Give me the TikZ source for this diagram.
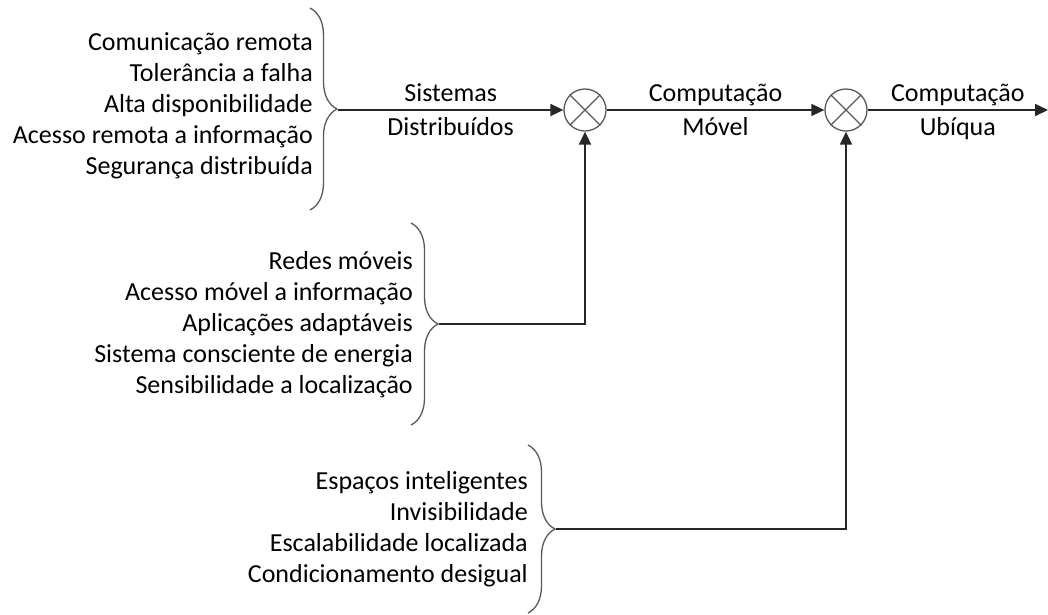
\documentclass[tikz,border=0pt]{standalone}
\usepackage{fontspec}
\setmainfont{Carlito}
\usetikzlibrary{arrows.meta,decorations.pathreplacing,positioning}
\tikzset{
  lista/.style={align=right,font=\fontsize{26}{31}\selectfont,inner sep=0pt},
  rotulo/.style={font=\fontsize{26}{31}\selectfont,inner sep=0pt,text height=17pt,text depth=8pt},
  chave/.style={draw=black!65,line width=1.3pt,decorate,decoration={brace,amplitude=27pt}},
  soma/.style={circle,draw=black!65,line width=1.3pt,minimum size=42pt,inner sep=0pt},
  fluxo/.style={draw=black!85,line width=1.7pt,-{Triangle[length=13pt,width=12pt]}},
}
\begin{document}
\begin{tikzpicture}[x=1pt,y=-1pt]
\useasboundingbox (0,0) rectangle (1048,614);
% somadores
\node[soma] (somaA) at (585,110) {};
\node[soma] (somaB) at (846,110) {};
\draw[black!65,line width=1.1pt] (somaA.north west) -- (somaA.south east) (somaA.north east) -- (somaA.south west);
\draw[black!65,line width=1.1pt] (somaB.north west) -- (somaB.south east) (somaB.north east) -- (somaB.south west);
% listas de requisitos
\node[lista,anchor=east] (distrib) at (313,106) {Comunicação remota\\Tolerância a falha\\Alta disponibilidade\\Acesso remota a informação\\Segurança distribuída};
\node[lista,anchor=east] (movel) at (413,325) {Redes móveis\\Acesso móvel a informação\\Aplicações adaptáveis\\Sistema consciente de energia\\Sensibilidade a localização};
\node[lista,anchor=east] (ubiqua) at (528,529) {Espaços inteligentes\\Invisibilidade\\Escalabilidade localizada\\Condicionamento desigual};
% chaves
\draw[chave] (310,8) -- (310,210);
\draw[chave] (411,223) -- (411,425);
\draw[chave] (528,445) -- (528,613);
\coordinate (pontaA) at (338,110);
\coordinate (pontaB) at (439,324);
\coordinate (pontaC) at (556,529);
\coordinate (saida) at (1048,110);
% fluxo principal
\draw[fluxo] (pontaA) -- (somaA) node[midway,above,rotulo]{Sistemas} node[midway,below=8pt,rotulo]{Distribuídos};
\draw[fluxo] (somaA) -- (somaB) node[midway,above,rotulo]{Computação} node[midway,below=8pt,rotulo]{Móvel};
\draw[fluxo] (somaB) -- (saida) node[midway,above,rotulo]{Computação} node[midway,below=8pt,rotulo]{Ubíqua};
\draw[fluxo] (pontaB) -| (somaA);
\draw[fluxo] (pontaC) -| (somaB);
\end{tikzpicture}
\end{document}
